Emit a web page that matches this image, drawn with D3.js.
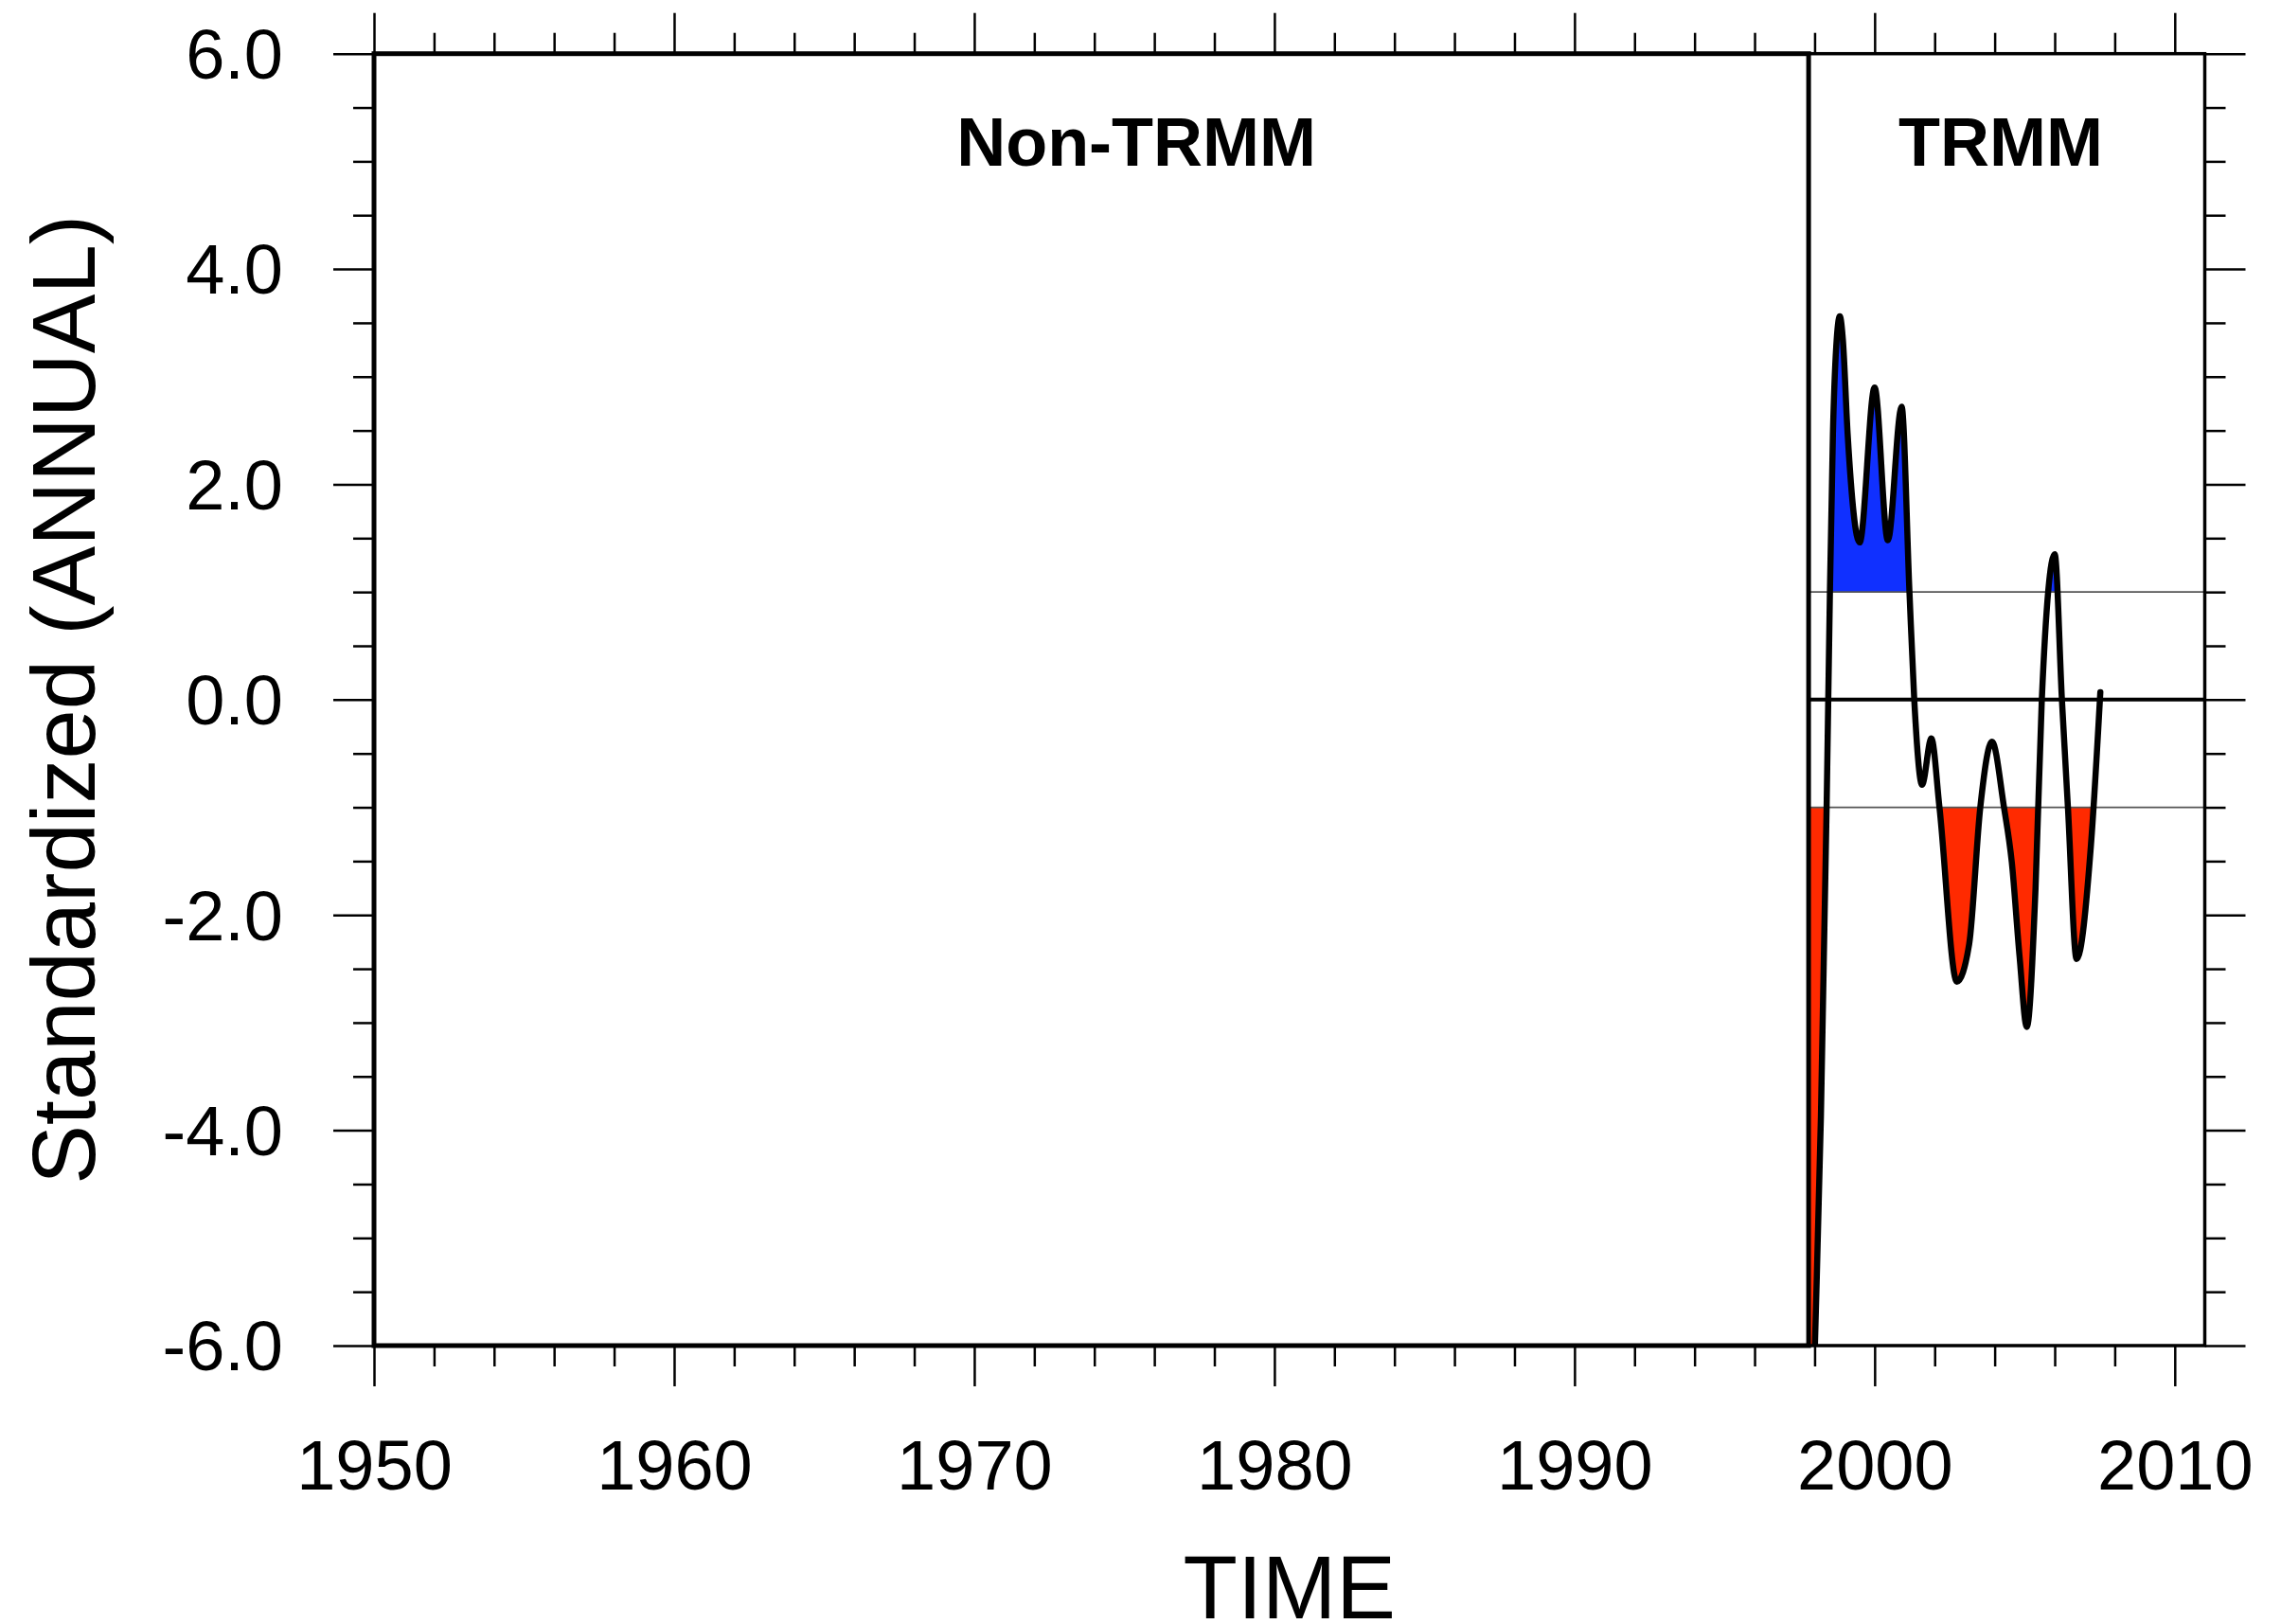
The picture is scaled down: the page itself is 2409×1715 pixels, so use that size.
<!DOCTYPE html>
<html>
<head>
<meta charset="utf-8">
<script src="https://cdn.jsdelivr.net/npm/d3@7"></script>
<style>
  body { margin: 0; background: #fff; }
  text { font-family: "Liberation Sans", Arial, Helvetica, sans-serif; }
</style>
</head>
<body>
<div id="chart"></div>
<script>
// standardized annual index (TRMM period only)
const years  = [1997.80, 1998.01, 1998.21, 1998.40, 1998.51, 1998.61, 1998.72, 1998.84, 1998.94, 1999.10, 1999.50,
                2000.00, 2000.44, 2000.90, 2001.16, 2001.32, 2001.58, 2001.89, 2002.16, 2002.74, 2003.15,
                2003.52, 2003.91, 2004.31, 2004.57, 2004.83, 2005.07, 2005.36, 2005.57, 2006.00, 2006.24,
                2006.44, 2006.73, 2007.21, 2007.52];
const values = [-8.2, -6.0, -3.87, -1.0, 1.0, 2.47, 3.28, 3.56, 3.35, 2.47, 1.46,
                2.90, 1.48, 2.72, 1.0, 0.0, -0.79, -0.36, -1.0, -2.62, -2.27,
                -1.0, -0.39, -1.0, -1.51, -2.39, -3.04, -1.76, 0.0, 1.35, 0.0,
                -1.0, -2.41, -1.34, 0.07];

const xMajorTicks = d3.range(1950, 2011, 10);
const xMinorTicks = d3.range(1950, 2011, 2).filter(d => d % 10 !== 0);
const yMajorTicks = d3.range(-6, 6.01, 2);
const yMinorTicks = d3.range(-6, 6.01, 0.5).filter(d => d % 2 !== 0);
const panelLabels = ["Non-TRMM", "TRMM"];
const panelLabelYears = [1975.4, 2004.2];
const trmmStart = 1997.8;
const refLevels = [1, -1];

const width = 2409, height = 1715;

const x = d3.scaleLinear().domain([1950, 2011]).range([395, 2328.5]);
const y = d3.scaleLinear().domain([-6, 6]).range([1421, 56.7]);

const svg = d3.select("#chart")
  .append("svg")
  .attr("width", width)
  .attr("height", height)
  .style("background", "#fff");

const defs = svg.append("defs");
const clip = (id, y0, y1) => defs.append("clipPath").attr("id", id)
  .append("rect")
  .attr("x", x(trmmStart)).attr("width", x(2011) - x(trmmStart))
  .attr("y", y0).attr("height", y1 - y0);
clip("clipAll", y(6), y(-6));
clip("clipAbove", y(6), y(1));
clip("clipBelow", y(-1), y(-6));

const pts = years.map((d, i) => ({ year: d, v: values[i] }));
const curve = d3.curveMonotoneX;

// shaded parts beyond +1 / -1
const fills = [
  { ref: 1, clip: "clipAbove", color: "#1030ff" },
  { ref: -1, clip: "clipBelow", color: "#ff2a00" }
];
fills.forEach(f => {
  const area = d3.area()
    .x(d => x(d.year))
    .y0(y(f.ref))
    .y1(d => y(d.v))
    .curve(curve);
  svg.append("path")
    .datum(pts)
    .attr("clip-path", `url(#${f.clip})`)
    .attr("fill", f.color)
    .attr("d", area);
});

// reference lines
svg.selectAll(".ref")
  .data(refLevels)
  .enter()
  .append("line")
  .attr("class", "ref")
  .attr("x1", x(trmmStart)).attr("x2", x(2011))
  .attr("y1", d => y(d)).attr("y2", d => y(d))
  .attr("stroke", "#555")
  .attr("stroke-width", 1.8);

svg.append("line")
  .attr("x1", x(trmmStart)).attr("x2", x(2011))
  .attr("y1", y(0)).attr("y2", y(0))
  .attr("stroke", "#000")
  .attr("stroke-width", 4);

const line = d3.line().x(d => x(d.year)).y(d => y(d.v)).curve(curve);
svg.append("path")
  .datum(pts)
  .attr("clip-path", "url(#clipAll)")
  .attr("fill", "none")
  .attr("stroke", "#000")
  .attr("stroke-width", 6.5)
  .attr("stroke-linejoin", "round")
  .attr("stroke-linecap", "round")
  .attr("d", line);

// panel frames
svg.append("rect")
  .attr("x", x(trmmStart)).attr("y", y(6))
  .attr("width", x(2011) - x(trmmStart)).attr("height", y(-6) - y(6))
  .attr("fill", "none").attr("stroke", "#000").attr("stroke-width", 3.5);
svg.append("rect")
  .attr("x", x(1950)).attr("y", y(6))
  .attr("width", x(trmmStart) - x(1950)).attr("height", y(-6) - y(6))
  .attr("fill", "none").attr("stroke", "#000").attr("stroke-width", 5);

// axes: minor then major ticks on all four sides
const addAxis = (axisFn, scale, ticks, size, transform, labels, pad) => {
  const a = axisFn(scale).tickValues(ticks).tickSize(size).tickSizeOuter(0);
  if (labels) a.tickFormat(d => d.toFixed(labels)).tickPadding(pad);
  else if (labels === 0) a.tickFormat(d3.format("d")).tickPadding(pad);
  else a.tickFormat("");
  const g = svg.append("g").attr("transform", transform).call(a);
  g.select(".domain").remove();
  g.selectAll(".tick line").attr("stroke", "#000").attr("stroke-width", 2.5);
  g.selectAll(".tick text")
    .attr("fill", "#000")
    .style("font-size", "74px")
    .style("font-family", '"Liberation Sans", Arial, Helvetica, sans-serif');
  return g;
};

const atBottom = `translate(0,${y(-6)})`;
const atTop = `translate(0,${y(6)})`;
const atLeft = `translate(${x(1950)},0)`;
const atRight = `translate(${x(2011)},0)`;

addAxis(d3.axisBottom, x, xMinorTicks, 22, atBottom);
addAxis(d3.axisBottom, x, xMajorTicks, 43, atBottom, 0, 10)
  .selectAll(".tick text").attr("y", 152).attr("dy", 0);
addAxis(d3.axisTop, x, xMinorTicks, 22, atTop);
addAxis(d3.axisTop, x, xMajorTicks, 43, atTop);
addAxis(d3.axisLeft, y, yMinorTicks, 22, atLeft);
addAxis(d3.axisLeft, y, yMajorTicks, 43, atLeft, 1, 53)
  .selectAll(".tick text").attr("dy", "0.35em");
addAxis(d3.axisRight, y, yMinorTicks, 22, atRight);
addAxis(d3.axisRight, y, yMajorTicks, 43, atRight);

// panel labels
svg.selectAll(".panel-label")
  .data(panelLabels)
  .enter()
  .append("text")
  .attr("class", "panel-label")
  .attr("x", (d, i) => x(panelLabelYears[i]))
  .attr("y", 175)
  .attr("text-anchor", "middle")
  .style("font-size", "72px")
  .style("font-weight", "bold")
  .text(d => d);

// axis titles
svg.append("text")
  .attr("x", (x(1950) + x(2011)) / 2)
  .attr("y", 1709)
  .attr("text-anchor", "middle")
  .style("font-size", "94px")
  .text("TIME");

svg.append("text")
  .attr("transform", `translate(100,${y(0)}) rotate(-90)`)
  .attr("text-anchor", "middle")
  .style("font-size", "94px")
  .text("Standardized (ANNUAL)");
</script>
</body>
</html>
